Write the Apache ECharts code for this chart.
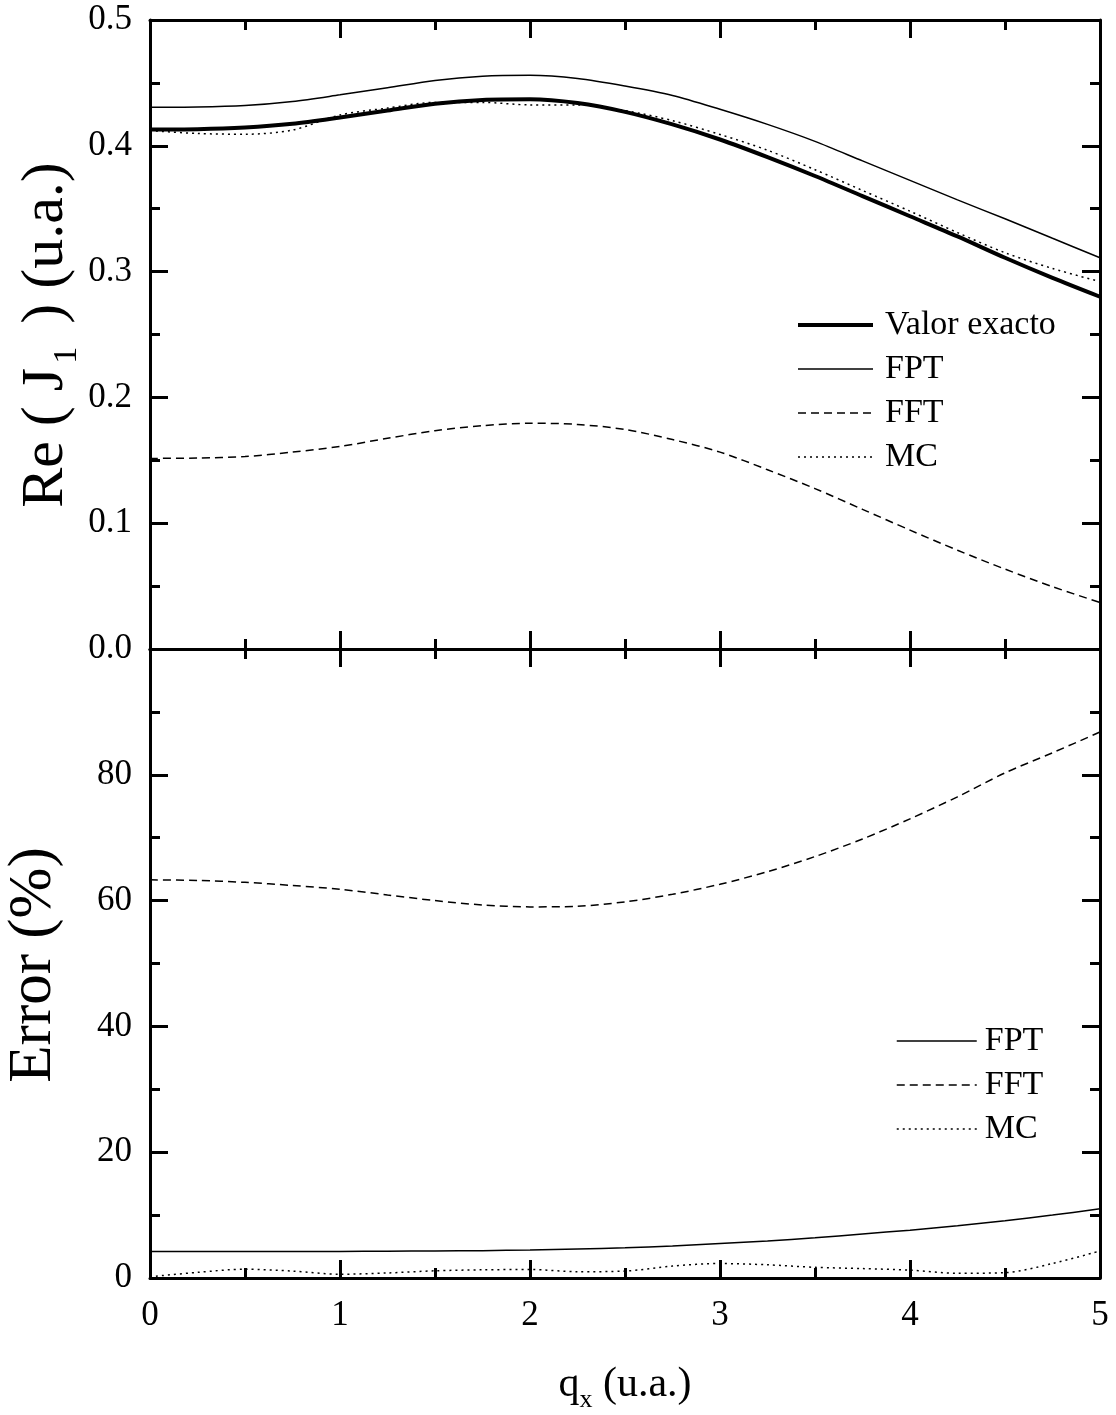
<!DOCTYPE html>
<html>
<head>
<meta charset="utf-8">
<script src="https://cdn.jsdelivr.net/npm/echarts@6/dist/echarts.min.js"></script>
<style>
html,body{margin:0;padding:0;background:#fff;}
#chart{width:1116px;height:1415px;}
</style>
</head>
<body>
<div id="chart"></div>
<script>
// ---- data ----
const qx = [0,0.25,0.5,0.75,1,1.25,1.5,1.75,2,2.25,2.5,2.75,3,3.25,3.5,3.75,4,4.25,4.5,4.75,5];
const reExact = [0.413,0.4132,0.4145,0.4175,0.4225,0.428,0.4335,0.4365,0.437,0.434,0.427,0.417,0.405,0.391,0.376,0.360,0.344,0.328,0.311,0.295,0.280];
const reFPT   = [0.4306,0.4308,0.432,0.4352,0.4405,0.4462,0.452,0.4553,0.456,0.4535,0.4475,0.440,0.429,0.417,0.4035,0.388,0.3725,0.357,0.342,0.3265,0.311];
const reFFT   = [0.1515,0.1518,0.153,0.1565,0.161,0.1675,0.1735,0.1775,0.1795,0.1785,0.1745,0.1665,0.1565,0.1425,0.1275,0.111,0.0945,0.0785,0.0635,0.0495,0.037];
const reMC    = [0.412,0.4098,0.4092,0.4125,0.4245,0.430,0.4345,0.4345,0.4325,0.4325,0.428,0.420,0.409,0.3965,0.381,0.3645,0.348,0.331,0.315,0.3025,0.292];
const errFPT  = [4.2,4.2,4.2,4.2,4.22,4.25,4.3,4.35,4.45,4.6,4.8,5.1,5.5,5.9,6.4,7.0,7.6,8.3,9.1,10.0,11.0];
const errFFT  = [63.3,63.2,62.9,62.4,61.8,60.9,60.0,59.3,59.0,59.1,59.8,61.0,62.6,64.6,67.0,69.8,73.0,76.5,80.3,83.5,86.8];
const errMC   = [0.2,0.9,1.4,1.1,0.6,0.8,1.15,1.3,1.35,1.0,1.1,1.9,2.3,2.1,1.7,1.5,1.25,0.75,0.85,2.3,4.3];
const xTicks = [0,1,2,3,4,5];
const reTicks = [0,0.1,0.2,0.3,0.4,0.5];
const errTicks = [0,20,40,60,80];

const FONT = 'Liberation Serif';
const pts = arr => qx.map((q,i)=>[q,arr[i]]);

function xAx(grid, pos, labels){
  return {
    type:'value', gridIndex:grid, position:pos, min:0, max:5, interval:1,
    axisLine:{show:true,onZero:false,lineStyle:{color:'#000',width:3}},
    axisTick:{show:true,inside:true,length:18,lineStyle:{color:'#000',width:3}},
    minorTick:{show:true,splitNumber:2,length:10,lineStyle:{color:'#000',width:3}},
    splitLine:{show:false},
    axisLabel:{show:labels,margin:20,color:'#000',fontFamily:FONT,fontSize:35,
      formatter:v=>xTicks.includes(v)?String(v):''}
  };
}
function yAx(grid, pos, labels, min, max, interval, fmt){
  return {
    type:'value', gridIndex:grid, position:pos, min:min, max:max, interval:interval,
    axisLine:{show:true,onZero:false,lineStyle:{color:'#000',width:3}},
    axisTick:{show:true,inside:true,length:18,lineStyle:{color:'#000',width:3}},
    minorTick:{show:true,splitNumber:2,length:10,lineStyle:{color:'#000',width:3}},
    splitLine:{show:false},
    axisLabel:{show:labels,margin:18,color:'#000',fontFamily:FONT,fontSize:35,formatter:fmt}
  };
}
function line(name, data, xi, yi, width, type){
  return {name:name,type:'line',xAxisIndex:xi,yAxisIndex:yi,data:data,smooth:0.3,
    symbol:'none',silent:true,animation:false,
    lineStyle:{color:'#000',width:width,type:type},itemStyle:{color:'#000'}};
}
const hiddenSym = {color:'rgba(0,0,0,0)',borderColor:'rgba(0,0,0,0)',borderWidth:0,opacity:0};
const legItem = (name,width,type) => ({name:name,lineStyle:{color:'#000',width:width,type:type}});

const chart = echarts.init(document.getElementById('chart'), null, {renderer:'canvas'});
chart.setOption({
  backgroundColor:'#fff',
  animation:false,
  grid:[
    {left:150, top:20, width:950, height:629},
    {left:150, top:649, width:950, height:629}
  ],
  xAxis:[xAx(0,'bottom',false), xAx(0,'top',false), xAx(1,'bottom',true), xAx(1,'top',false)],
  yAxis:[
    yAx(0,'left',true,0,0.5,0.1,v=>{const r=Math.round(v*10)/10; return reTicks.includes(r)?r.toFixed(1):'';}),
    yAx(0,'right',false,0,0.5,0.1,null),
    yAx(1,'left',true,0,100,20,v=>errTicks.includes(v)?String(v):''),
    yAx(1,'right',false,0,100,20,null)
  ],
  legend:[
    {orient:'vertical',left:791,top:303,itemWidth:75,itemHeight:20,itemGap:10,selectedMode:false,
     itemStyle:hiddenSym,
     textStyle:{color:'#000',fontFamily:FONT,fontSize:34,padding:[0,0,0,7]},
     data:[legItem('Valor exacto',4,'solid'),legItem('FPT',1.5,'solid'),legItem('FFT',1.5,[8,5]),legItem('MC',1.5,[2,4])]},
    {orient:'vertical',left:891,top:1019,itemWidth:80,itemHeight:20,itemGap:10,selectedMode:false,
     itemStyle:hiddenSym,
     textStyle:{color:'#000',fontFamily:FONT,fontSize:34,padding:[0,0,0,3]},
     data:[legItem('FPT',1.5,'solid'),legItem('FFT',1.5,[8,5]),legItem('MC',1.5,[2,4])]}
  ],
  series:[
    line('Valor exacto', pts(reExact), 0, 0, 4, 'solid'),
    line('FPT', pts(reFPT), 0, 0, 1.5, 'solid'),
    line('FFT', pts(reFFT), 0, 0, 1.5, [8,5]),
    line('MC', pts(reMC), 0, 0, 1.5, [2,4]),
    line('FPT', pts(errFPT), 2, 2, 1.5, 'solid'),
    line('FFT', pts(errFFT), 2, 2, 1.5, [8,5]),
    line('MC', pts(errMC), 2, 2, 1.5, [2,4])
  ],
  graphic:[
    {type:'text', x:46, y:335, rotation:Math.PI/2, silent:true,
     style:{text:'{n|Re ( J}{s|1}{n| ) (u.a.)}', align:'center', verticalAlign:'middle',
       rich:{n:{fontFamily:FONT,fontSize:60,fill:'#000',lineHeight:76,verticalAlign:'middle'},
             s:{fontFamily:FONT,fontSize:34,fill:'#000',lineHeight:76,verticalAlign:'bottom',padding:[20,8,0,4]}}}},
    {type:'text', x:34, y:965, rotation:Math.PI/2, silent:true,
     style:{text:'Error (%)', align:'center', verticalAlign:'middle', fontFamily:FONT, fontSize:61, fill:'#000'}},
    {type:'text', x:625, y:1385, silent:true,
     style:{text:'{n|q}{s|x}{n| (u.a.)}', align:'center', verticalAlign:'middle',
       rich:{n:{fontFamily:FONT,fontSize:42,fill:'#000',lineHeight:56,verticalAlign:'middle'},
             s:{fontFamily:FONT,fontSize:26,fill:'#000',lineHeight:56,verticalAlign:'bottom',padding:[14,0,0,0]}}}}
  ]
});
</script>
</body>
</html>
